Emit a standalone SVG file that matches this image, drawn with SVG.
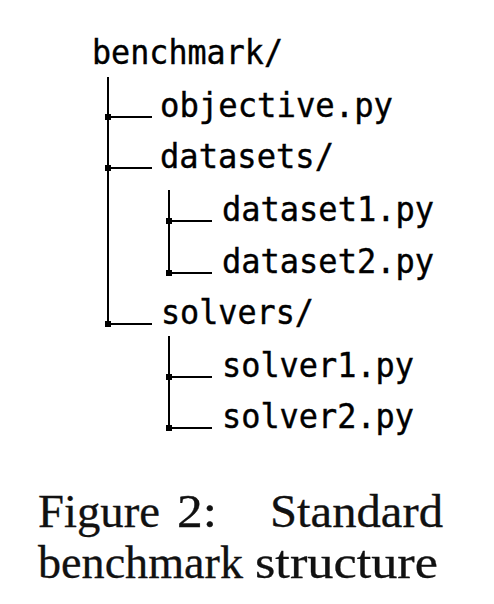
<svg xmlns="http://www.w3.org/2000/svg" width="494" height="604" viewBox="0 0 494 604">
<style>
.t{font-family:"DejaVu Sans Mono",monospace;font-size:33px;fill:#000;stroke:#000;stroke-width:0.4}
.c{font-family:"Liberation Serif",serif;font-size:46px;fill:#111;stroke:#111;stroke-width:0.3}
.ln{stroke:#000;stroke-width:2;fill:none}
</style>
<defs>
<marker id="sq" markerWidth="8" markerHeight="8" refX="4" refY="4" markerUnits="userSpaceOnUse">
<rect x="1" y="1" width="6" height="6" fill="#000"/>
</marker>
</defs>
<rect width="494" height="604" fill="#fff"/>
<g id="connectors">
<path class="ln" d="M108,77 V324"/>
<path class="ln" d="M169,190 V273"/>
<path class="ln" d="M169,336 V428"/>
<path class="ln" d="M108,117 H152" marker-start="url(#sq)"/>
<path class="ln" d="M108,168 H152" marker-start="url(#sq)"/>
<path class="ln" d="M108,324 H152" marker-start="url(#sq)"/>
<path class="ln" d="M169,221 H212" marker-start="url(#sq)"/>
<path class="ln" d="M169,273 H212" marker-start="url(#sq)"/>
<path class="ln" d="M169,377 H212" marker-start="url(#sq)"/>
<path class="ln" d="M169,428 H212" marker-start="url(#sq)"/>
</g>
<g id="benchmark"><text class="t" x="92" y="64" textLength="191" lengthAdjust="spacingAndGlyphs">benchmark/</text></g>
<g id="objective"><text class="t" x="160" y="117" textLength="233" lengthAdjust="spacingAndGlyphs">objective.py</text></g>
<g id="datasets"><text class="t" x="160" y="168" textLength="174" lengthAdjust="spacingAndGlyphs">datasets/</text></g>
<g id="dataset1"><text class="t" x="222" y="221" textLength="212" lengthAdjust="spacingAndGlyphs">dataset1.py</text></g>
<g id="dataset2"><text class="t" x="222" y="273" textLength="212" lengthAdjust="spacingAndGlyphs">dataset2.py</text></g>
<g id="solvers"><text class="t" x="161" y="324" textLength="153" lengthAdjust="spacingAndGlyphs">solvers/</text></g>
<g id="solver1"><text class="t" x="222" y="377" textLength="192" lengthAdjust="spacingAndGlyphs">solver1.py</text></g>
<g id="solver2"><text class="t" x="222" y="428" textLength="192" lengthAdjust="spacingAndGlyphs">solver2.py</text></g>
<g id="caption">
<text class="c" x="38" y="527" textLength="122" lengthAdjust="spacingAndGlyphs">Figure</text>
<text class="c" x="177" y="527" textLength="40" lengthAdjust="spacingAndGlyphs">2:</text>
<text class="c" x="270" y="527" textLength="173" lengthAdjust="spacingAndGlyphs">Standard</text>
<text class="c" x="38" y="578" textLength="205" lengthAdjust="spacingAndGlyphs">benchmark</text>
<text class="c" x="255" y="578" textLength="183" lengthAdjust="spacingAndGlyphs">structure</text>
</g>
</svg>
